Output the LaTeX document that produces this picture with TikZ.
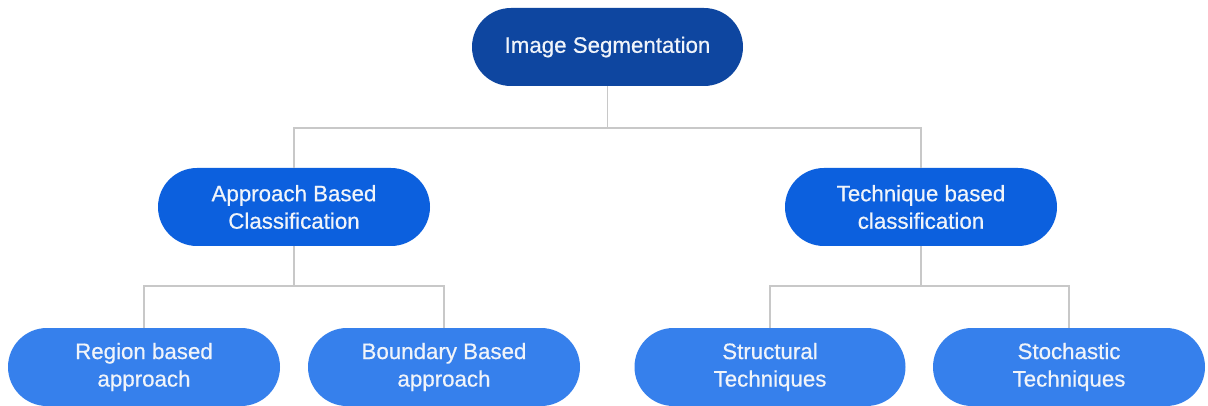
\documentclass[tikz,border=0pt]{standalone}
\usepackage{fontspec}
\setmainfont{Liberation Sans}[FakeBold=0.6]
\definecolor{rootblue}{RGB}{14,70,160}
\definecolor{midblue}{RGB}{12,96,222}
\definecolor{leafblue}{RGB}{54,128,236}
\definecolor{linkgray}{RGB}{200,200,200}
\definecolor{labelwhite}{RGB}{240,244,250}
\begin{document}
\begin{tikzpicture}[x=1pt,y=-1pt,
  pill/.style={rectangle, rounded corners=39pt, minimum height=78pt,
    text=labelwhite, align=center,
    font=\fontsize{22.3}{27.5}\selectfont, inner sep=0pt},
  rootbox/.style={pill, fill=rootblue, minimum width=271pt},
  midbox/.style={pill, fill=midblue, minimum width=272pt},
  leafbox/.style={pill, fill=leafblue, minimum width=272pt},
  link/.style={draw=linkgray, line width=1.4pt}]
\useasboundingbox[fill=white] (0,0) rectangle (1208,406);

% tree nodes
\node[rootbox] (root) at (607.5,47) {Image Segmentation};
\node[midbox] (appr) at (294,207) {Approach Based\\Classification};
\node[midbox] (tech) at (921,207) {Technique based\\classification};
\node[leafbox] (region) at (144,367) {Region based\\approach};
\node[leafbox] (bound) at (444,367) {Boundary Based\\approach};
\node[leafbox, minimum width=271pt] (struct) at (770,367) {Structural\\Techniques};
\node[leafbox] (stoch) at (1069,367) {Stochastic\\Techniques};

% junction points of the elbow connectors
\coordinate (j0) at (607.5,128);
\coordinate (j1) at (294,286);
\coordinate (j2) at (921,286);

\draw[link] (root.south) -- (j0);
\draw[link] (j0) -| (appr.north);
\draw[link] (j0) -| (tech.north);
\draw[link] (appr.south) -- (j1);
\draw[link] (j1) -| (region.north);
\draw[link] (j1) -| (bound.north);
\draw[link] (tech.south) -- (j2);
\draw[link] (j2) -| (struct.north);
\draw[link] (j2) -| (stoch.north);
\end{tikzpicture}
\end{document}
